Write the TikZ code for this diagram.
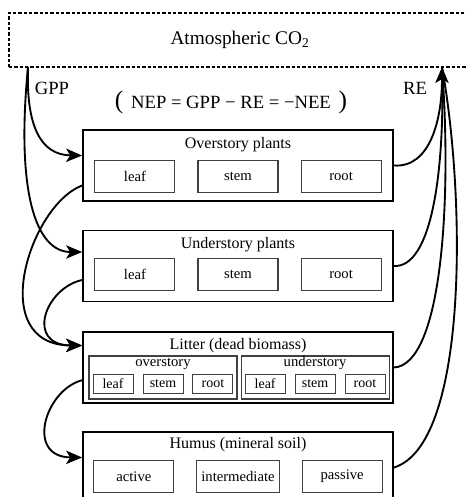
\documentclass[tikz,border=0pt]{standalone}
\usepackage{fontspec}
\setmainfont{Liberation Serif}
\usetikzlibrary{arrows.meta, positioning}

\begin{document}
\begin{tikzpicture}[
    x=0.75pt, y=-0.75pt,
    node distance=16.5pt,
    pool/.style={
        draw,
        line width=1.3pt,
        minimum width=232.5pt,
        minimum height=53.25pt
    },
    title/.style={
        font=\fontsize{12}{12}\selectfont
    },
    part/.style={
        draw=black!75,
        line width=0.8pt,
        minimum width=60pt,
        minimum height=24pt,
        font=\fontsize{11}{11}\selectfont
    },
    group/.style={
        draw=black!75,
        line width=0.8pt,
        minimum width=111pt,
        minimum height=32.25pt
    },
    small/.style={
        draw=black!75,
        line width=0.7pt,
        inner sep=0pt,
        minimum width=30pt,
        minimum height=14.25pt,
        font=\fontsize{10.5}{10.5}\selectfont
    },
    flux/.style={
        line width=1.4pt
    },
    arrow/.style={
        flux,
        -{Stealth[length=12pt,width=10pt,inset=3pt]}
    }
]
\useasboundingbox (0,0) rectangle (465,497);

% Atmosphère
\node[draw, dash pattern=on 2.5pt off 1.5pt, line width=1.2pt,
      minimum width=346.5pt, minimum height=40.5pt,
      font=\fontsize{14.5}{14.5}\selectfont] (atmos) at (240,40) {Atmospheric CO\textsubscript{2}};
\coordinate (gpp) at (28,67);
\coordinate (re) at (442,67);

\node[font=\fontsize{14}{14}\selectfont] (gpplabel) at (52,88) {GPP};
\node[font=\fontsize{14}{14}\selectfont] (relabel) at (415,88) {RE};
\node[font=\fontsize{14}{14}\selectfont] (nep) at (231,102)
    {{\fontsize{19}{19}\selectfont(}\, NEP = GPP − RE = −NEE \,{\fontsize{19}{19}\selectfont)}};

% Végétation haute
\node[pool] (over) at (238,165.5) {};
\node[title] (overtitle) at ([yshift=-12pt]over.north) {Overstory plants};
\node[part] (overstem) at ([yshift=-7.9pt]over.center) {stem};
\node[part, left=of overstem] (overleaf) {leaf};
\node[part, right=of overstem] (overroot) {root};

% Végétation basse
\node[pool] (under) at (238,266) {};
\node[title] (undertitle) at ([yshift=-11.5pt]under.north) {Understory plants};
\node[part] (understem) at ([yshift=-6.5pt]under.center) {stem};
\node[part, left=of understem] (underleaf) {leaf};
\node[part, right=of understem] (underroot) {root};

% Litière
\node[pool] (litter) at (238,367.5) {};
\node[title] (littertitle) at ([yshift=-11pt]litter.north) {Litter (dead biomass)};
\node[group] (litover) at ([xshift=-56.25pt,yshift=-7.5pt]litter.center) {};
\node[group, right=2.25pt of litover] (litunder) {};
\node[font=\fontsize{11}{11}\selectfont] (litovertitle) at ([yshift=-6pt]litover.north) {overstory};
\node[font=\fontsize{11}{11}\selectfont] (litundertitle) at ([yshift=-6pt]litunder.north) {understory};
\node[small] (litoverstem) at ([yshift=-4.5pt]litover.center) {stem};
\node[small, left=6.75pt of litoverstem] (litoverleaf) {leaf};
\node[small, right=6.75pt of litoverstem] (litoverroot) {root};
\node[small] (litunderstem) at ([yshift=-4.5pt]litunder.center) {stem};
\node[small, left=6.75pt of litunderstem] (litunderleaf) {leaf};
\node[small, right=6.75pt of litunderstem] (litunderroot) {root};

% Humus
\node[pool] (humus) at (238,467.5) {};
\node[title] (humustitle) at ([yshift=-10.5pt]humus.north) {Humus (mineral soil)};
\node[part] (humusmid) at ([yshift=-6.75pt]humus.center) {intermediate};
\node[part, left=of humusmid] (humusactive) {active};
\node[part, right=of humusmid] (humuspassive) {passive};

% GPP
\draw[arrow] (gpp) .. controls (26,125) and (40,155) .. ([yshift=7.5pt]over.west);
\draw[arrow] (gpp) .. controls (16,190) and (35,252) .. ([yshift=10.5pt]under.west);

% Transferts
\draw[arrow] ([yshift=-15pt]over.west) .. controls (30,205) and (-15,345) .. ([yshift=16.5pt]litter.west);
\draw[arrow] ([yshift=-10.5pt]under.west) .. controls (45,288) and (25,345) .. ([yshift=16.5pt]litter.west);
\draw[arrow] ([yshift=-9.5pt]litter.west) .. controls (45,390) and (25,457) .. ([yshift=7.5pt]humus.west);

% RE
\draw[flux] (under.east) .. controls (432,268) and (445,170) .. (re);
\draw[flux] (litter.east) .. controls (442,365) and (452,200) .. (re);
\draw[flux] (humus.east) .. controls (468,445) and (466,200) .. (re);
\draw[arrow] (over.east) .. controls (430,168) and (442,120) .. (re);

\end{tikzpicture}
\end{document}
